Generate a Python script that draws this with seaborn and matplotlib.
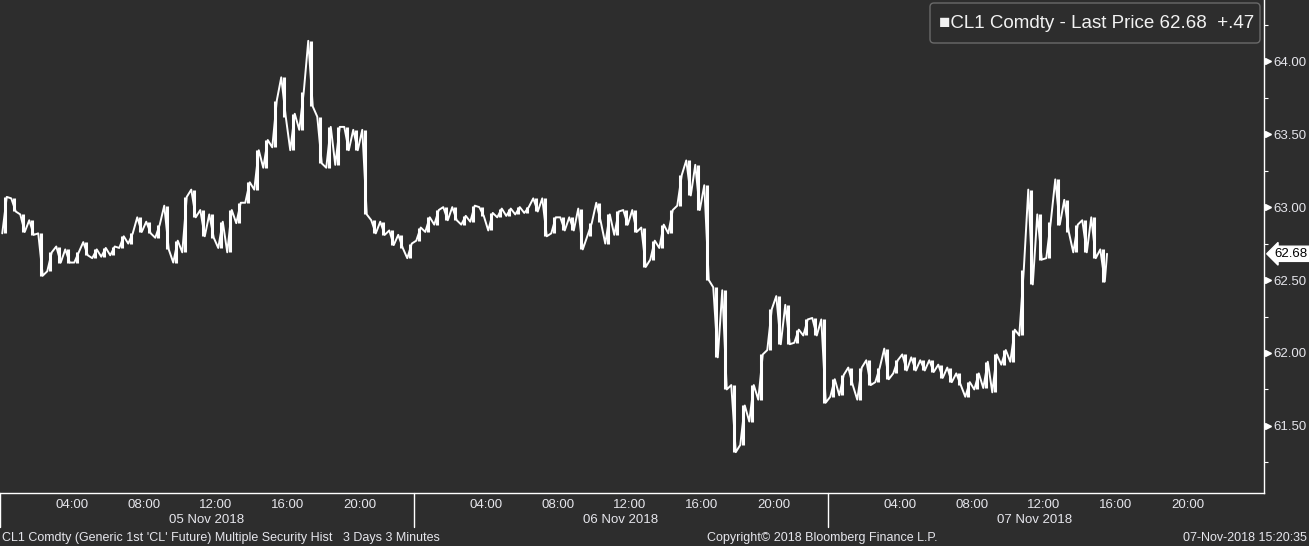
import numpy as np
import pandas as pd
import matplotlib
matplotlib.use("Agg")
import matplotlib.pyplot as plt
import matplotlib.transforms as mtransforms
from matplotlib.patches import FancyBboxPatch
import seaborn as sns

# CL1 Comdty, 30 minute bars (session hours, 23h per day)
bar_high = [63.07, 63.06, 62.95, 62.91, 62.82, 62.69, 62.73, 62.71, 62.69, 62.76,
            62.71, 62.72, 62.73, 62.80, 62.82, 62.93, 62.90, 62.88, 63.01, 62.77,
            63.07, 63.12, 62.98, 62.95, 62.90, 62.98, 63.03, 63.17, 63.39, 63.46,
            63.73, 63.89, 63.64, 63.79, 64.14, 63.62, 63.55, 63.55, 63.55, 63.53,
            63.53, 62.91, 62.90, 62.84, 62.81, 62.75, 62.86, 62.93, 62.98, 63.00,
            63.00, 62.94, 63.01, 63.00, 62.96, 62.99, 62.99, 63.00, 63.00, 63.06,
            63.06, 62.93, 62.93, 62.93, 62.99, 62.89, 63.03, 62.95, 62.97, 62.98,
            62.98, 62.86, 62.77, 62.88, 62.98, 63.22, 63.32, 63.29, 63.15, 62.45,
            62.43, 61.78, 61.64, 61.78, 61.99, 62.30, 62.39, 62.33, 62.16, 62.23,
            62.24, 62.23, 61.82, 61.85, 61.90, 61.90, 61.95, 61.90, 62.03, 61.95,
            61.99, 61.97, 61.95, 61.95, 61.92, 61.90, 61.86, 61.80, 61.86, 61.94,
            61.99, 62.02, 62.16, 62.57, 63.12, 62.95, 62.90, 63.19, 63.05, 62.88,
            62.91, 62.93, 62.71]
bar_low = [62.82, 62.97, 62.83, 62.81, 62.53, 62.56, 62.62, 62.62, 62.62, 62.67,
           62.65, 62.66, 62.67, 62.72, 62.75, 62.83, 62.82, 62.79, 62.71, 62.62,
           62.69, 62.93, 62.80, 62.79, 62.72, 62.69, 62.89, 63.03, 63.12, 63.27,
           63.41, 63.62, 63.39, 63.53, 63.69, 63.30, 63.27, 63.29, 63.39, 63.39,
           62.95, 62.82, 62.81, 62.74, 62.72, 62.65, 62.77, 62.83, 62.88, 62.91,
           62.91, 62.88, 62.90, 62.94, 62.84, 62.93, 62.94, 62.95, 62.96, 62.97,
           62.80, 62.82, 62.84, 62.84, 62.71, 62.80, 62.90, 62.75, 62.81, 62.88,
           62.83, 62.59, 62.64, 62.72, 62.82, 63.01, 63.08, 62.98, 62.50, 61.97,
           61.75, 61.32, 61.37, 61.53, 61.68, 62.02, 62.06, 62.06, 62.07, 62.12,
           62.12, 61.66, 61.70, 61.71, 61.78, 61.68, 61.78, 61.80, 61.82, 61.86,
           61.88, 61.88, 61.88, 61.87, 61.83, 61.80, 61.78, 61.70, 61.75, 61.76,
           61.73, 61.92, 61.94, 62.12, 62.47, 62.64, 62.65, 62.88, 62.83, 62.69,
           62.69, 62.65, 62.49]
last_price = 62.68
net_change = 0.47
days = ["05 Nov 2018", "06 Nov 2018", "07 Nov 2018"]
hour_labels = ["04:00", "08:00", "12:00", "16:00", "20:00"]
label_hours = [4, 8, 12, 16, 20]
minor_hours = [2, 6, 10, 14, 18, 22]
price_ticks = [61.5, 62.0, 62.5, 63.0, 63.5, 64.0]
session_len = 23

bg = "#2d2d2d"
fg = "#e6e6ec"
W, H = 1309, 546

sns.set_style("dark", {"axes.facecolor": bg, "figure.facecolor": bg})
plt.rcParams["font.family"] = ["Liberation Sans", "DejaVu Sans"]

# zigzag through each bar's low/high so the trace looks like the bar chart
rows = []
n = len(bar_high)
for i in range(n):
    mid = (bar_high[i] + bar_low[i]) / 2
    if i + 1 < n:
        nxt = (bar_high[i + 1] + bar_low[i + 1]) / 2
    else:
        nxt = 0
    if nxt > mid:
        pair = [bar_low[i], bar_high[i]]
    else:
        pair = [bar_high[i], bar_low[i]]
    rows.append((i * 0.5 + 0.125, pair[0]))
    rows.append((i * 0.5 + 0.375, pair[1]))
rows.append((n * 0.5, last_price))
df = pd.DataFrame(rows, columns=["t", "price"])
bars = pd.DataFrame({"t": np.arange(n) * 0.5 + 0.25, "high": bar_high, "low": bar_low})

fig = plt.figure(figsize=(W / 100, H / 100), dpi=100)
ax = fig.add_axes([0, 1 - 493 / H, 1264 / W, 493 / H])
ax.set_facecolor(bg)

sns.lineplot(data=df, x="t", y="price", sort=False, estimator=None,
             color="white", lw=1.4, ax=ax)
ax.vlines(bars["t"], bars["low"], bars["high"], color="white", lw=2.2)

ax.set_xlim(0, 70.22)
ax.set_ylim(61.04, 64.42)
ax.set_xlabel("")
ax.set_ylabel("")
ax.grid(False)
for s in ["top", "left"]:
    ax.spines[s].set_visible(False)
for s in ["bottom", "right"]:
    ax.spines[s].set_color("white")
    ax.spines[s].set_linewidth(1)

# y axis on the right
ax.yaxis.tick_right()
ax.set_yticks(price_ticks)
ax.set_yticklabels([f"{p:.2f}" for p in price_ticks])
ax.set_yticks([p + 0.25 for p in [61.0] + price_ticks], minor=True)
ax.tick_params(axis="y", which="major", length=0, pad=7, labelsize=9.5, labelcolor=fg)
ax.tick_params(axis="y", which="minor", length=3, width=0.8, color="white", direction="out")
ytrans = mtransforms.blended_transform_factory(ax.transAxes, ax.transData)
ax.plot([1.0035] * len(price_ticks), price_ticks, ls="none", marker=">", ms=4.5,
        color="white", transform=ytrans, clip_on=False)

# last price tag
ax.text(1.0085, last_price, f"{last_price:.2f}", transform=ytrans, ha="left", va="center",
        fontsize=9.5, color="black",
        bbox=dict(boxstyle="larrow,pad=0.12", fc="white", ec="white"))

# x axis: compressed session hours
major_x = [d * session_len + h for d in range(len(days)) for h in label_hours]
minor_x = [d * session_len + h for d in range(len(days)) for h in minor_hours]
ax.set_xticks(major_x)
ax.set_xticklabels(hour_labels * len(days))
ax.set_xticks(minor_x, minor=True)
ax.tick_params(axis="x", which="major", length=0, pad=4, labelsize=9.5, labelcolor=fg)
ax.tick_params(axis="x", which="minor", length=3, width=0.8, color="white", direction="out")
xtrans = mtransforms.blended_transform_factory(ax.transData, ax.transAxes)
for d, day in enumerate(days):
    x0 = d * session_len
    ax.plot([x0, x0], [0, -34 / 493], color="white", lw=1, transform=xtrans, clip_on=False)
    ax.text(x0 + session_len / 2, -27 / 493, day, transform=xtrans, ha="center",
            va="center", fontsize=9.5, color=fg)

# legend box
box = FancyBboxPatch((930, H - 43), 330, 40, boxstyle="round,pad=0,rounding_size=4",
                     transform=mtransforms.IdentityTransform(), fc=bg, ec="#6a6a6a", lw=1)
fig.patches.append(box)
fig.text(939 / W, 1 - 23 / H, "\u25a0CL1 Comdty - Last Price 62.68  +.47", ha="left",
         va="center", fontsize=13.5, color="#f2f2f2")

# footer
fig.text(2 / W, 1 - 538 / H,
         "CL1 Comdty (Generic 1st 'CL' Future) Multiple Security Hist   3 Days 3 Minutes",
         ha="left", va="center", fontsize=9, color=fg)
fig.text(822 / W, 1 - 538 / H, "Copyright\u00a9 2018 Bloomberg Finance L.P.",
         ha="center", va="center", fontsize=9, color=fg)
fig.text(1307 / W, 1 - 538 / H, "07-Nov-2018 15:20:35", ha="right", va="center",
         fontsize=9, color=fg)

fig.savefig("out.png", dpi=100, facecolor=bg)
